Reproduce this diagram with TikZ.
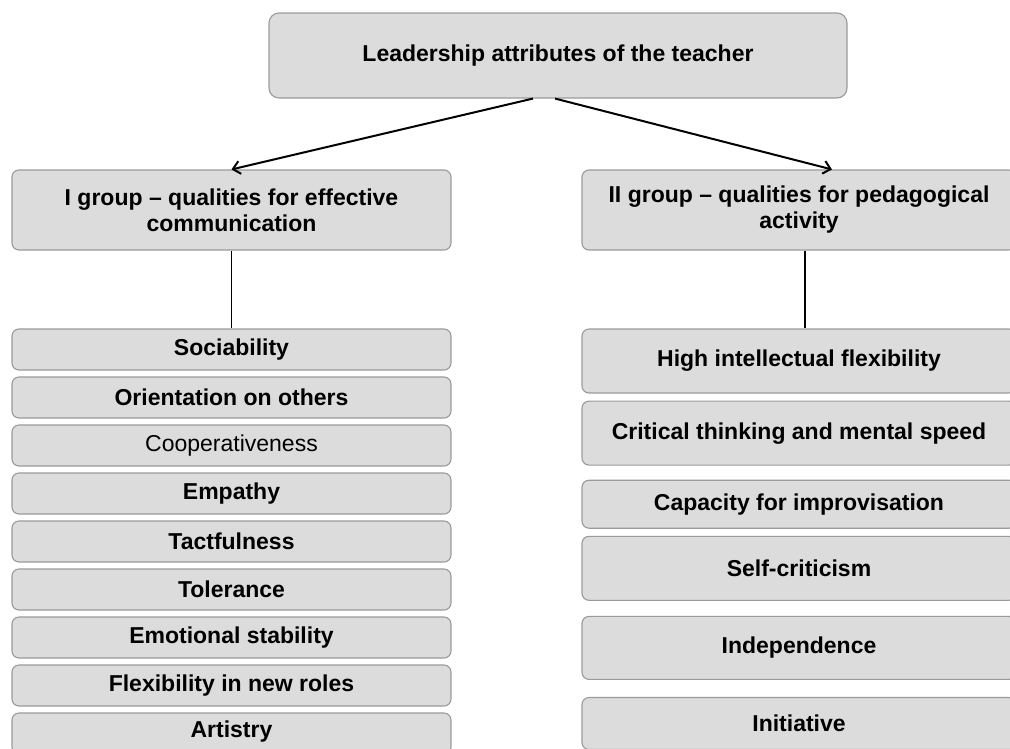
\documentclass[tikz,border=0pt]{standalone}
\usepackage{fontspec}
\setmainfont{Liberation Sans}
\usepackage{xcolor}
\usepackage{tikz}
\usetikzlibrary{arrows.meta, positioning}

\definecolor{boxfill}{HTML}{DCDCDC}
\definecolor{boxline}{HTML}{9A9A9A}

\begin{document}
\begin{tikzpicture}[x=1pt, y=-1pt,
        box/.style={draw=boxline, fill=boxfill, line width=1.1pt, rounded corners=7pt,
            inner sep=0pt, align=center, font=\fontsize{23}{26}\selectfont\bfseries},
        leftbox/.style={box, minimum width=439pt, minimum height=41pt},
        rightbox/.style={box, minimum width=434pt},
        link/.style={line width=1.1pt},
        pointer/.style={line width=2pt, -{Straight Barb[length=7pt, width=13pt, line width=2pt]}}]
    \useasboundingbox (0,0) rectangle (1010,748);

    \node[box, minimum width=578pt, minimum height=85pt, rounded corners=10pt] (top) at (558,55.5)
        {Leadership attributes of the teacher};

    \node[box, minimum width=439pt, minimum height=80pt] (grp1) at (231.5,210)
        {I group -- qualities for effective\\communication};
    \node[box, minimum width=434pt, minimum height=80pt] (grp2) at (799,210)
        {II group -- qualities for pedagogical\\activity};

    % first group: communication qualities
    \node[leftbox] (soc) at (231.5,349.5) {Sociability};
    \node[leftbox, below=5.9pt of soc] (ori) {Orientation on others};
    \node[leftbox, below=5.9pt of ori, font=\fontsize{23}{26}\selectfont] (coop) {Cooperativeness};
    \node[leftbox, below=5.9pt of coop] (emp) {Empathy};
    \node[leftbox, below=5.9pt of emp] (tact) {Tactfulness};
    \node[leftbox, below=5.9pt of tact] (tol) {Tolerance};
    \node[leftbox, below=5.9pt of tol] (emo) {Emotional stability};
    \node[leftbox, below=5.9pt of emo] (flex) {Flexibility in new roles};
    \node[leftbox, below=5.9pt of flex, text depth=8pt] (art) {Artistry};

    % second group: pedagogical qualities
    \node[rightbox, minimum height=64pt] (high) at (799,361) {High intellectual flexibility};
    \node[rightbox, minimum height=64pt, below=7pt of high] (crit) {Critical thinking and mental speed};
    \node[rightbox, minimum height=48pt, below=14pt of crit] (impr) {Capacity for improvisation};
    \node[rightbox, minimum height=64pt, below=7pt of impr] (self) {Self-criticism};
    \node[rightbox, minimum height=63pt, below=15pt of self] (ind) {Independence};
    \node[rightbox, minimum height=52pt, below=17pt of ind] (init) {Initiative};

    \draw[pointer] ([xshift=-25pt]top.south) -- (grp1.north);
    \draw[pointer] ([xshift=-3pt]top.south) -- ([xshift=33pt]grp2.north);

    \draw[link] (grp1.south) -- (soc.north);
    \draw[link] ([xshift=6pt]grp2.south) -- ([xshift=6pt]high.north);
\end{tikzpicture}
\end{document}
